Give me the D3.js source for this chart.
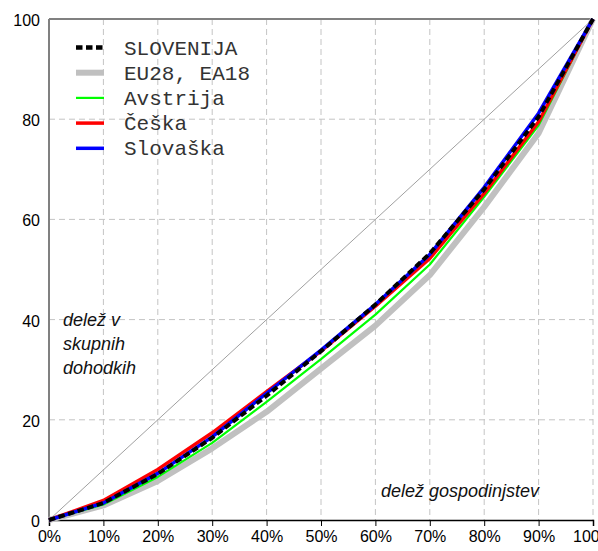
<!DOCTYPE html>
<html>
<head>
<meta charset="utf-8">
<script src="https://cdn.jsdelivr.net/npm/d3@7"></script>
<style>
  body { margin: 0; background: #fff; }
  .tick-label { font-family: Arial, "Liberation Sans", sans-serif; font-size: 16px; fill: #000; }
  .legend-text { font-family: "Courier New", "Liberation Mono", monospace; font-size: 21px; fill: #333; }
  .note { font-family: Arial, "Liberation Sans", sans-serif; font-size: 18px; font-style: italic; fill: #111; }
</style>
</head>
<body>
<div id="chart"></div>
<script>
// chart size
var svgWidth = 598;
var svgHeight = 551;

// plot area edges (pixels)
var plot = { left: 49, right: 593, top: 19, bottom: 520 };

// data: share of households (x) vs share of total income (y), deciles
var households = [0, 10, 20, 30, 40, 50, 60, 70, 80, 90, 100];
var slovenija  = [0, 3.4, 9.2, 16.4, 24.8, 33.7, 43.0, 53.2, 66.0, 80.5, 100];
var eu28       = [0, 2.9, 7.8, 14.3, 21.6, 30.2, 38.8, 48.9, 62.5, 77.2, 100];
var avstrija   = [0, 3.1, 8.6, 15.4, 23.6, 32.1, 41.0, 51.0, 64.5, 78.8, 100];
var ceska      = [0, 3.9, 10.1, 17.4, 25.6, 33.7, 42.7, 52.2, 65.2, 79.5, 100];
var slovaska   = [0, 3.4, 9.3, 16.6, 25.3, 33.9, 43.0, 53.0, 66.4, 81.2, 100];

var xTicks = [0, 10, 20, 30, 40, 50, 60, 70, 80, 90, 100];
var yTicks = [0, 20, 40, 60, 80, 100];

// series in drawing order (bottom first)
var series = [
  { name: "EU28, EA18", values: eu28, color: "#c0c0c0", width: 6, dash: null },
  { name: "Avstrija", values: avstrija, color: "#00ff00", width: 2.2, dash: null },
  { name: "Češka", values: ceska, color: "#ff0000", width: 3.5, dash: null },
  { name: "Slovaška", values: slovaska, color: "#0000ff", width: 3.5, dash: null },
  { name: "SLOVENIJA", values: slovenija, color: "#000000", width: 4, dash: "6.5,3.5" }
];
// legend order
var legendOrder = ["SLOVENIJA", "EU28, EA18", "Avstrija", "Češka", "Slovaška"];

var svg = d3.select("#chart")
  .append("svg")
  .attr("width", svgWidth)
  .attr("height", svgHeight);

var x = d3.scaleLinear().domain([0, 100]).range([plot.left, plot.right]);
var y = d3.scaleLinear().domain([0, 100]).range([plot.bottom, plot.top]);

// grid lines
var grid = svg.append("g");
grid.selectAll(".vgrid")
  .data(xTicks.slice(1))
  .enter()
  .append("line")
  .attr("x1", d => x(d)).attr("x2", d => x(d))
  .attr("y1", plot.top).attr("y2", plot.bottom)
  .attr("stroke", "#c4c4c4")
  .attr("stroke-dasharray", "6,4");

grid.selectAll(".hgrid")
  .data(yTicks.slice(1, -1))
  .enter()
  .append("line")
  .attr("x1", plot.left).attr("x2", plot.right)
  .attr("y1", d => y(d)).attr("y2", d => y(d))
  .attr("stroke", "#c4c4c4")
  .attr("stroke-dasharray", "6,4");

// equality diagonal
svg.append("line")
  .attr("x1", x(0)).attr("y1", y(0))
  .attr("x2", x(100)).attr("y2", y(100))
  .attr("stroke", "#a0a0a0")
  .attr("stroke-width", 1);

// frame: left and top gray, bottom black
svg.append("line")
  .attr("x1", plot.left).attr("x2", plot.left)
  .attr("y1", plot.top).attr("y2", plot.bottom)
  .attr("stroke", "#808080").attr("stroke-width", 2);
svg.append("line")
  .attr("x1", plot.left).attr("x2", plot.right)
  .attr("y1", plot.top).attr("y2", plot.top)
  .attr("stroke", "#808080").attr("stroke-width", 2);

// bottom axis
var bottomAxis = d3.axisBottom(x)
  .tickValues(xTicks)
  .tickSize(6)
  .tickFormat(d => d + "%");
var xAxis = svg.append("g")
  .attr("transform", `translate(0, ${plot.bottom})`)
  .call(bottomAxis);
xAxis.select(".domain").attr("stroke", "#000").attr("stroke-width", 1.5);
xAxis.selectAll("text")
  .attr("class", "tick-label")
  .attr("font-size", null).attr("font-family", null)
  .attr("y", 11)
  .attr("dy", "0.71em");

// left labels
svg.append("g")
  .selectAll("text")
  .data(yTicks)
  .enter()
  .append("text")
  .attr("class", "tick-label")
  .attr("x", 40)
  .attr("y", d => y(d) + 7)
  .attr("text-anchor", "end")
  .text(d => d);

// curves
var line = d3.line()
  .x((d, i) => x(households[i]))
  .y(d => y(d));

svg.append("g")
  .selectAll("path")
  .data(series)
  .enter()
  .append("path")
  .attr("d", d => line(d.values))
  .attr("fill", "none")
  .attr("stroke", d => d.color)
  .attr("stroke-width", d => d.width)
  .attr("stroke-dasharray", d => d.dash)
  .attr("stroke-linejoin", "round");

// legend
var legend = svg.append("g");
legendOrder.forEach(function(name, i) {
  var s = series.find(d => d.name === name);
  var ly = 47.5 + i * 25.2;
  legend.append("line")
    .attr("x1", 76).attr("x2", 104)
    .attr("y1", ly).attr("y2", ly)
    .attr("stroke", s.color)
    .attr("stroke-width", s.dash ? 4.5 : Math.min(s.width, 6))
    .attr("stroke-dasharray", s.dash);
  legend.append("text")
    .attr("class", "legend-text")
    .attr("x", 124)
    .attr("y", ly + 7)
    .text(name);
});

// annotations
var noteLines = ["delež v", "skupnih", "dohodkih"];
svg.append("g")
  .selectAll("text")
  .data(noteLines)
  .enter()
  .append("text")
  .attr("class", "note")
  .attr("x", 63)
  .attr("y", (d, i) => 326 + i * 24)
  .text(d => d);

svg.append("text")
  .attr("class", "note")
  .attr("x", 381)
  .attr("y", 497)
  .text("delež gospodinjstev");
</script>
</body>
</html>
